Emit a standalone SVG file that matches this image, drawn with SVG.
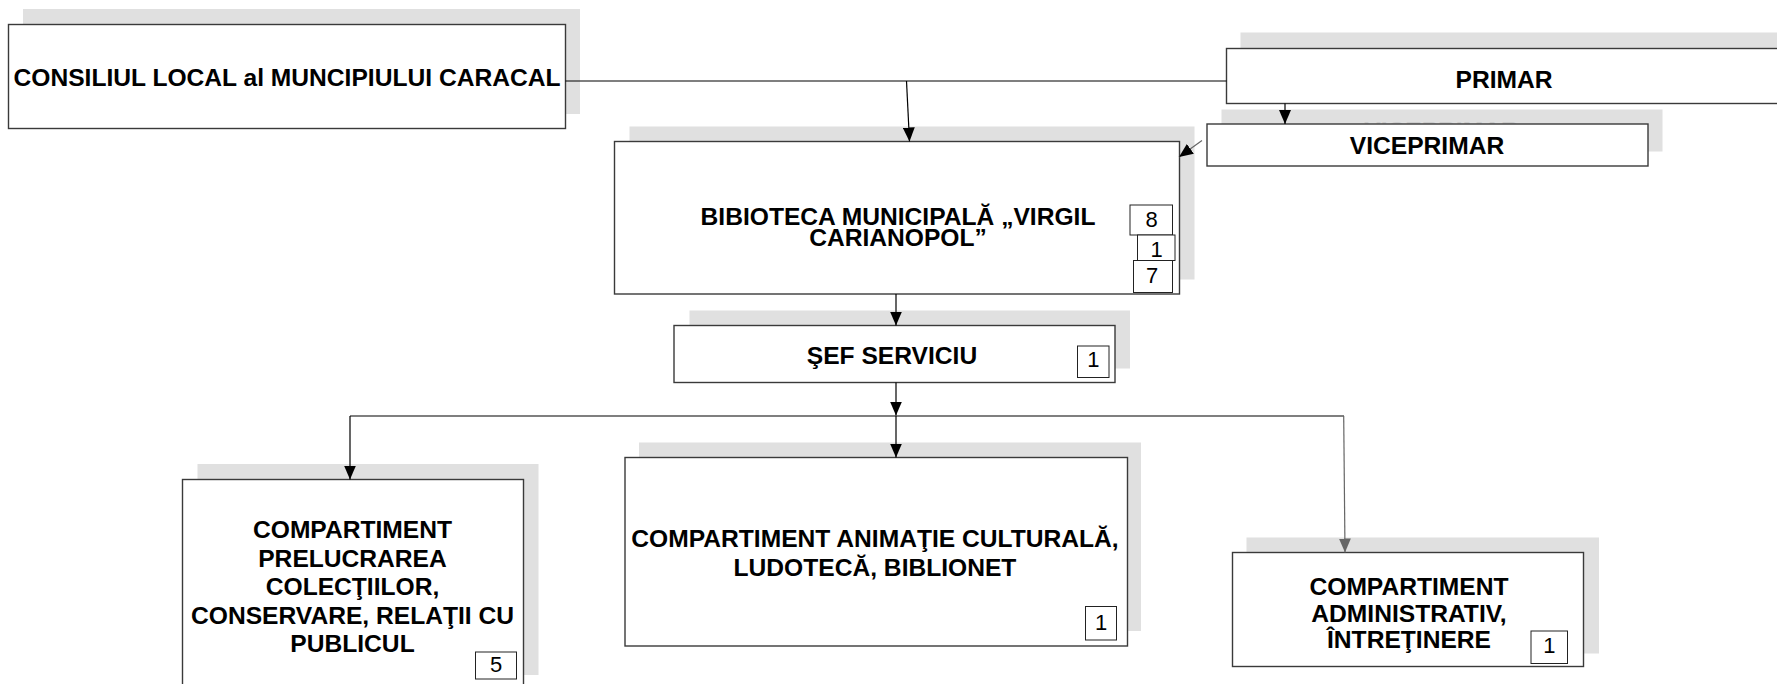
<svg xmlns="http://www.w3.org/2000/svg" width="1777" height="684" viewBox="0 0 1777 684">
<style>
.sh{fill:#e0e0e0;stroke:none}
.gh{fill:#cdcdcd;font-family:"Liberation Sans",Arial,sans-serif;font-weight:bold;font-size:24.6px;text-anchor:middle}
.bx{fill:#ffffff;stroke:#3a3a3a;stroke-width:1.4}
.t{fill:#000;font-family:"Liberation Sans",Arial,sans-serif;font-weight:bold;font-size:24.6px;text-anchor:middle}
.nb{fill:#ffffff;stroke:#222;stroke-width:1}
.n{fill:#000;font-family:"Liberation Sans",Arial,sans-serif;font-size:22px;text-anchor:middle}
.c{fill:none;stroke:#000;stroke-width:1.2}
.cg{fill:none;stroke:#666;stroke-width:1.2}
</style>
<defs>
<marker id="ar" viewBox="0 0 14 12" refX="14" refY="6" markerWidth="14" markerHeight="12" markerUnits="userSpaceOnUse" orient="auto">
<path d="M0,0 L14,6 L0,12 z" fill="#000"/>
</marker>
<marker id="arg" viewBox="0 0 14 12" refX="14" refY="6" markerWidth="14" markerHeight="12" markerUnits="userSpaceOnUse" orient="auto">
<path d="M0,0 L14,6 L0,12 z" fill="#666"/>
</marker>
<clipPath id="vclip"><rect x="1221.5" y="109.5" width="441" height="14.5"/></clipPath>
</defs>
<rect x="0" y="0" width="1777" height="684" fill="#ffffff"/>

<g id="consiliul">
<rect class="sh" x="23" y="9" width="557" height="105"/>
<rect class="bx" x="8.5" y="24.5" width="557" height="104"/>
<text class="t" x="287" y="86">CONSILIUL LOCAL al MUNCIPIULUI CARACAL</text>
</g>

<g id="primar">
<rect class="sh" x="1240.5" y="32.5" width="560" height="60"/>
<rect class="bx" x="1226.5" y="48.5" width="570" height="55"/>
<text class="t" x="1504" y="88">PRIMAR</text>
</g>

<g id="viceprimar">
<rect class="sh" x="1221.5" y="109.5" width="441" height="42"/>
<text class="gh" x="1441.5" y="139" clip-path="url(#vclip)">VICEPRIMAR</text>
<rect class="bx" x="1207" y="124" width="441" height="42"/>
<text class="t" x="1427" y="154">VICEPRIMAR</text>
</g>

<g id="biblioteca">
<rect class="sh" x="629.5" y="126.5" width="565" height="153"/>
<rect class="bx" x="614.5" y="141.5" width="565" height="152.5"/>
<text class="t" x="898" y="225"><tspan x="898" y="225">BIBIOTECA MUNICIPALĂ „VIRGIL</tspan><tspan x="898" y="246">CARIANOPOL”</tspan></text>
<rect class="nb" x="1130" y="205" width="42.5" height="30"/>
<text class="n" x="1151.5" y="227.3">8</text>
<rect class="nb" x="1137.5" y="235" width="37.5" height="25.5"/>
<text class="n" x="1156.5" y="256.7">1</text>
<rect class="nb" x="1133.5" y="260.5" width="39" height="32"/>
<text class="n" x="1152" y="283.3">7</text>
</g>

<g id="sef-serviciu">
<rect class="sh" x="689.5" y="310.5" width="440.5" height="58"/>
<rect class="bx" x="674" y="325.5" width="441" height="57"/>
<text class="t" x="892" y="364">ŞEF SERVICIU</text>
<rect class="nb" x="1077.5" y="346" width="31.5" height="31.5"/>
<text class="n" x="1093.3" y="367.3">1</text>
</g>

<g id="comp-prelucrarea">
<rect class="sh" x="197.5" y="464" width="341" height="211"/>
<rect class="bx" x="182.5" y="479.5" width="341" height="220"/>
<text class="t" x="352.5" y="538">COMPARTIMENT</text>
<text class="t" x="352.5" y="566.5">PRELUCRAREA</text>
<text class="t" x="352.5" y="595">COLECŢIILOR,</text>
<text class="t" x="352.5" y="623.5">CONSERVARE, RELAŢII CU</text>
<text class="t" x="352.5" y="652">PUBLICUL</text>
<rect class="nb" x="475.5" y="652" width="41" height="27"/>
<text class="n" x="496" y="671.7">5</text>
</g>

<g id="comp-animatie">
<rect class="sh" x="639" y="442.5" width="502" height="188.5"/>
<rect class="bx" x="625" y="457.5" width="502.5" height="188.5"/>
<text class="t" x="875" y="547">COMPARTIMENT ANIMAŢIE CULTURALĂ,</text>
<text class="t" x="875" y="576">LUDOTECĂ, BIBLIONET</text>
<rect class="nb" x="1085.5" y="606.5" width="31" height="33.5"/>
<text class="n" x="1101" y="630">1</text>
</g>

<g id="comp-administrativ">
<rect class="sh" x="1246.5" y="537.5" width="352.5" height="116"/>
<rect class="bx" x="1232.5" y="552.5" width="351" height="114"/>
<text class="t" x="1409" y="595">COMPARTIMENT</text>
<text class="t" x="1409" y="621.5">ADMINISTRATIV,</text>
<text class="t" x="1409" y="648">ÎNTREŢINERE</text>
<rect class="nb" x="1531" y="631" width="36.5" height="32.5"/>
<text class="n" x="1549.3" y="653.3">1</text>
</g>

<g id="connectors">
<line class="c" x1="565.5" y1="81" x2="1226.5" y2="81"/>
<line class="c" x1="906.5" y1="81" x2="909.5" y2="141.5" marker-end="url(#ar)"/>
<line class="c" x1="1285" y1="103.5" x2="1285" y2="124" marker-end="url(#ar)"/>
<line class="cg" x1="1202" y1="140.5" x2="1179" y2="157" stroke-width="0.8" marker-end="url(#ar)"/>
<line class="c" x1="896" y1="294" x2="896" y2="325.5" marker-end="url(#ar)"/>
<line class="c" x1="896" y1="382.5" x2="896" y2="415.5" marker-end="url(#ar)"/>
<line class="c" x1="350" y1="416" x2="1344" y2="416"/>
<line class="c" x1="350" y1="416" x2="350" y2="479.5" marker-end="url(#ar)"/>
<line class="c" x1="896" y1="416" x2="896" y2="457.5" marker-end="url(#ar)"/>
<line class="cg" x1="1343.7" y1="416" x2="1345" y2="552.5" marker-end="url(#arg)"/>
</g>
</svg>
